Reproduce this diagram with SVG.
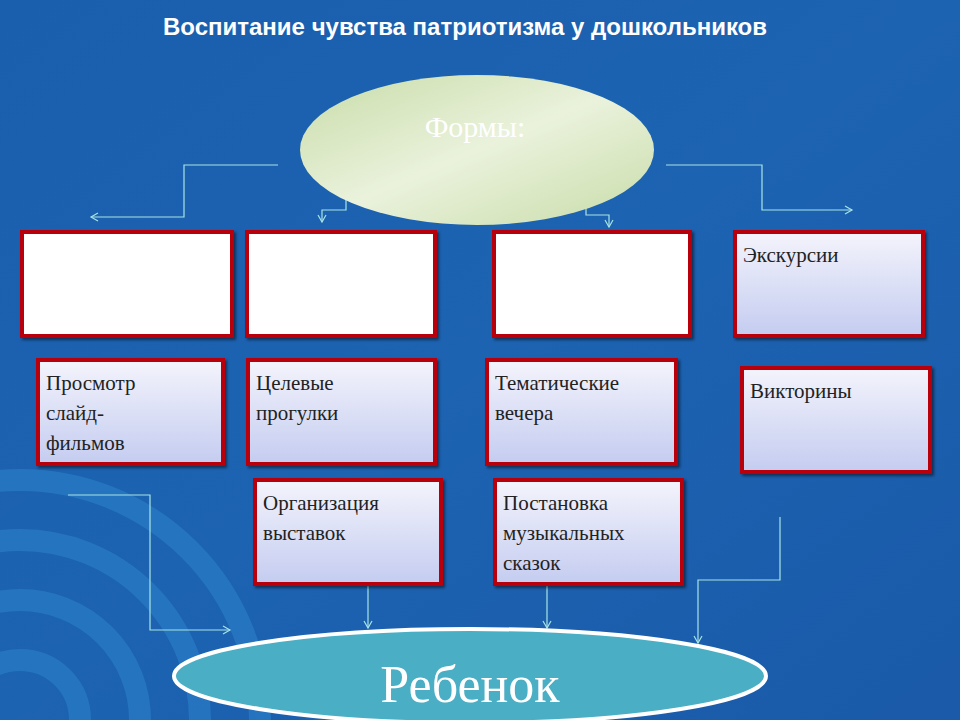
<svg xmlns="http://www.w3.org/2000/svg" width="960" height="720" viewBox="0 0 960 720">
<defs>
<linearGradient id="bg" x1="0" y1="0" x2="1" y2="1"><stop offset="0" stop-color="#1a5fae"/><stop offset="0.5" stop-color="#1c63b2"/><stop offset="1" stop-color="#1a5aa8"/></linearGradient>
<linearGradient id="ov" x1="0" y1="0" x2="1" y2="1"><stop offset="0" stop-color="#c8dca8"/><stop offset="0.5" stop-color="#eaf2dc"/><stop offset="1" stop-color="#c8dca8"/></linearGradient>
<linearGradient id="bx" x1="0" y1="0" x2="0" y2="1"><stop offset="0" stop-color="#f4f4fc"/><stop offset="1" stop-color="#c4ccf0"/></linearGradient>
<marker id="ar" markerWidth="10" markerHeight="10" refX="8" refY="5" orient="auto" markerUnits="userSpaceOnUse"><path d="M1,1 L8,5 L1,9" fill="none" stroke="#a8e4e4" stroke-width="1.2"/></marker>
<filter id="sh"><feDropShadow dx="2" dy="2" stdDeviation="1.5" flood-opacity="0.5"/></filter>
</defs>
<style>
.b{stroke:#b8000e;stroke-width:4;filter:url(#sh)}
.w{fill:#fff}.g{fill:url(#bx)}
.t{font-family:"Liberation Serif",serif;font-size:21px;fill:#222}
.c{fill:none;stroke:#a8e4e4;stroke-width:1.2;marker-end:url(#ar)}
</style>
<rect width="960" height="720" fill="url(#bg)"/>
<g fill="none" stroke="#2a7cc6" stroke-width="22" opacity="0.7">
<circle cx="20" cy="720" r="60"/><circle cx="20" cy="720" r="120"/><circle cx="20" cy="720" r="180"/><circle cx="20" cy="720" r="240"/>
</g>
<text x="465" y="35" text-anchor="middle" font-family="Liberation Sans,sans-serif" font-weight="bold" font-size="24" fill="#fff">Воспитание чувства патриотизма у дошкольников</text>
<g id="connectors">
<path class="c" d="M278,165 H184 V217 H91"/>
<path class="c" d="M346,195 V210 H322 V222"/>
<path class="c" d="M586,202 V215 H609 V227"/>
<path class="c" d="M666,165 H762 V210 H852"/>
<path class="c" d="M68,495 H150 V630 H230"/>
<path class="c" d="M368,585 V628"/>
<path class="c" d="M547,585 V628"/>
<path class="c" d="M780,517 V580 H698 V643"/>
</g>
<g id="forms"><ellipse cx="477" cy="150" rx="177" ry="75" fill="url(#ov)"/><text x="475" y="137" text-anchor="middle" font-family="Liberation Serif,serif" font-size="30" fill="#fff">Формы:</text></g>
<g id="b1"><rect class="b w" x="22" y="232" width="210" height="104"/></g>
<g id="b2"><rect class="b w" x="247" y="232" width="188" height="104"/></g>
<g id="b3"><rect class="b w" x="494" y="232" width="196" height="104"/></g>
<g id="b4"><rect class="b g" x="735" y="232" width="188" height="104"/><text class="t" x="743" y="262">Экскурсии</text></g>
<g id="b5"><rect class="b g" x="38" y="360" width="185" height="104"/><text class="t" x="46" y="390">Просмотр</text><text class="t" x="46" y="420">слайд-</text><text class="t" x="46" y="450">фильмов</text></g>
<g id="b6"><rect class="b g" x="248" y="360" width="187" height="104"/><text class="t" x="256" y="390">Целевые</text><text class="t" x="256" y="420">прогулки</text></g>
<g id="b7"><rect class="b g" x="487" y="360" width="189" height="104"/><text class="t" x="495" y="390">Тематические</text><text class="t" x="495" y="420">вечера</text></g>
<g id="b8"><rect class="b g" x="742" y="368" width="188" height="104"/><text class="t" x="750" y="398">Викторины</text></g>
<g id="b9"><rect class="b g" x="255" y="480" width="186" height="104"/><text class="t" x="263" y="510">Организация</text><text class="t" x="263" y="540">выставок</text></g>
<g id="b10"><rect class="b g" x="495" y="480" width="187" height="104"/><text class="t" x="503" y="510">Постановка</text><text class="t" x="503" y="540">музыкальных</text><text class="t" x="503" y="570">сказок</text></g>
<g id="child"><ellipse cx="470" cy="676" rx="296" ry="47" fill="#4aaec4" stroke="#fff" stroke-width="4"/><text x="470" y="702" text-anchor="middle" font-family="Liberation Serif,serif" font-size="52" fill="#fff">Ребенок</text></g>
</svg>
